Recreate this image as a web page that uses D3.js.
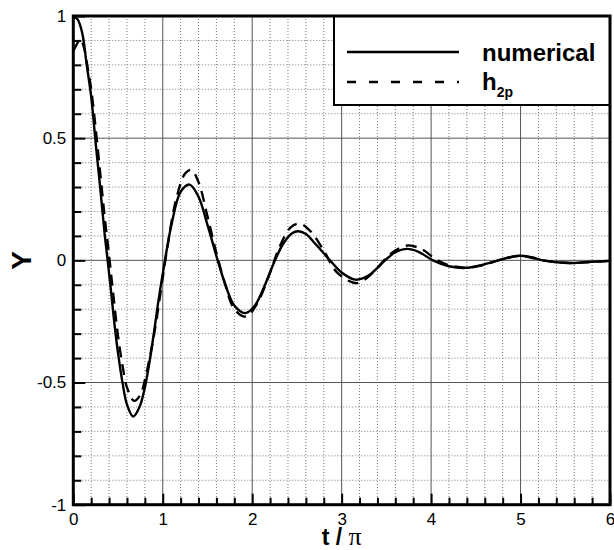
<!DOCTYPE html>
<html>
<head>
<meta charset="utf-8">
<script src="https://cdn.jsdelivr.net/npm/d3@7"></script>
<style>
  body { margin: 0; background: #fff; }
  svg { display: block; font-family: "Liberation Sans", Arial, sans-serif; }
</style>
</head>
<body>
<div id="wrapper"></div>
<script>
// data (t / pi, Y)
const xTicks = [0, 1, 2, 3, 4, 5, 6]
const yTicks = [-1, -0.5, 0, 0.5, 1]
const yTickLabels = ["-1", "-0.5", "0", "0.5", "1"]

const numericalT = [0, 0.05, 0.1, 0.15, 0.2, 0.25, 0.3, 0.35, 0.384, 0.42, 0.46, 0.5, 0.55, 0.6, 0.67,
  0.74, 0.8, 0.85, 0.9, 0.95, 1.025, 1.1, 1.2, 1.3, 1.4, 1.5, 1.614, 1.7, 1.8, 1.92, 2.02, 2.12,
  2.255, 2.35, 2.45, 2.515, 2.6, 2.7, 2.87, 3.0, 3.15, 3.3, 3.485, 3.6, 3.73, 3.86, 4.02, 4.2,
  4.38, 4.56, 4.75, 4.98, 5.12, 5.25, 5.4, 5.55, 5.75, 6.0]
const numericalY = [1.0, 0.985, 0.93, 0.8, 0.67, 0.48, 0.3, 0.11, 0.0, -0.12, -0.26, -0.38, -0.5, -0.59, -0.639,
  -0.6, -0.52, -0.42, -0.3, -0.17, 0.0, 0.15, 0.28, 0.31, 0.26, 0.145, 0.0, -0.1, -0.185, -0.216, -0.19, -0.12,
  0.0, 0.07, 0.112, 0.119, 0.108, 0.07, 0.0, -0.05, -0.079, -0.062, 0.0, 0.033, 0.047, 0.035, 0.0, -0.024,
  -0.031, -0.02, 0.0, 0.019, 0.013, 0.0, -0.008, -0.011, -0.007, -0.002]

const h2pT = [0, 0.04, 0.08, 0.12, 0.16, 0.2, 0.25, 0.3, 0.35, 0.4, 0.45, 0.5, 0.55, 0.6, 0.68,
  0.75, 0.8, 0.9, 1.0, 1.05, 1.15, 1.25, 1.32, 1.4, 1.5, 1.6, 1.7, 1.8, 1.93, 2.05, 2.2, 2.3,
  2.43, 2.53, 2.65, 2.8, 2.95, 3.17, 3.35, 3.5, 3.6, 3.74, 3.9, 4.05, 4.2, 4.4, 4.6, 4.75,
  5.0, 5.25, 5.55, 5.8, 6.0]
const h2pY = [0.857, 0.885, 0.905, 0.87, 0.79, 0.7, 0.54, 0.36, 0.18, 0.02, -0.15, -0.31, -0.43, -0.52, -0.575,
  -0.55, -0.49, -0.31, -0.07, 0.05, 0.25, 0.355, 0.37, 0.32, 0.18, 0.03, -0.1, -0.2, -0.23, -0.18, -0.05, 0.05,
  0.135, 0.15, 0.12, 0.04, -0.05, -0.093, -0.05, 0.01, 0.04, 0.061, 0.045, 0.005, -0.02, -0.03, -0.018, 0.0,
  0.018, 0.0, -0.011, -0.006, -0.002]

const numerical = numericalT.map((t, i) => ({ t, y: numericalY[i] }))
const h2p = h2pT.map((t, i) => ({ t, y: h2pY[i] }))

const dimensions = {
  width: 614,
  height: 550,
  margin: { top: 16, right: 4, bottom: 45.3, left: 73.3 },
}
dimensions.boundedWidth = dimensions.width - dimensions.margin.left - dimensions.margin.right
dimensions.boundedHeight = dimensions.height - dimensions.margin.top - dimensions.margin.bottom

const wrapper = d3.select("#wrapper")
  .append("svg")
    .attr("width", dimensions.width)
    .attr("height", dimensions.height)

const bounds = wrapper.append("g")
    .attr("transform", `translate(${dimensions.margin.left},${dimensions.margin.top})`)

const xScale = d3.scaleLinear()
    .domain([0, 6])
    .range([0, dimensions.boundedWidth])
const yScale = d3.scaleLinear()
    .domain([-1, 1])
    .range([dimensions.boundedHeight, 0])

const xMinor = d3.range(0, 6.001, 0.2).filter(v => Math.abs(v - Math.round(v)) > 1e-6)
const yMinor = d3.range(-1, 1.001, 0.1).filter(v => Math.abs(v * 2 - Math.round(v * 2)) > 1e-6)

// grid
const grid = bounds.append("g")
grid.selectAll(".vminor").data(xMinor).join("line")
    .attr("x1", d => xScale(d)).attr("x2", d => xScale(d))
    .attr("y1", 0).attr("y2", dimensions.boundedHeight)
    .attr("stroke", "#777").attr("stroke-dasharray", "1,2")
grid.selectAll(".hminor").data(yMinor).join("line")
    .attr("y1", d => yScale(d)).attr("y2", d => yScale(d))
    .attr("x1", 0).attr("x2", dimensions.boundedWidth)
    .attr("stroke", "#777").attr("stroke-dasharray", "1,2")
grid.selectAll(".vmajor").data(xTicks.slice(1, -1)).join("line")
    .attr("x1", d => xScale(d)).attr("x2", d => xScale(d))
    .attr("y1", 0).attr("y2", dimensions.boundedHeight)
    .attr("stroke", "#555")
grid.selectAll(".hmajor").data(yTicks.slice(1, -1)).join("line")
    .attr("y1", d => yScale(d)).attr("y2", d => yScale(d))
    .attr("x1", 0).attr("x2", dimensions.boundedWidth)
    .attr("stroke", "#555")

// curves
const lineGen = d3.line()
    .x(d => xScale(d.t))
    .y(d => yScale(d.y))
    .curve(d3.curveCatmullRom.alpha(0.5))

bounds.append("path")
    .datum(numerical)
    .attr("d", lineGen)
    .attr("fill", "none")
    .attr("stroke", "#000")
    .attr("stroke-width", 2.4)

bounds.append("path")
    .datum(h2p)
    .attr("d", lineGen)
    .attr("fill", "none")
    .attr("stroke", "#000")
    .attr("stroke-width", 2.4)
    .attr("stroke-dasharray", "11,7")

// axes
const xAxis = d3.axisBottom(xScale)
    .tickValues(xTicks).tickSize(-11).tickPadding(8)
    .tickFormat(d => String(d))
const xAxisMinor = d3.axisBottom(xScale)
    .tickValues(xMinor).tickSize(-7).tickFormat("")
const yAxis = d3.axisLeft(yScale)
    .tickValues(yTicks).tickSize(-12).tickPadding(7)
    .tickFormat((d, i) => yTickLabels[i])
const yAxisMinor = d3.axisLeft(yScale)
    .tickValues(yMinor).tickSize(-8).tickFormat("")

const axes = [
  [xAxis, `translate(0,${dimensions.boundedHeight})`],
  [xAxisMinor, `translate(0,${dimensions.boundedHeight})`],
  [yAxis, null],
  [yAxisMinor, null],
]
axes.forEach(([ax, tr]) => {
  const g = bounds.append("g").call(ax)
  if (tr) g.attr("transform", tr)
  g.select(".domain").remove()
  g.selectAll(".tick line").attr("stroke", "#000").attr("stroke-width", 2)
  g.selectAll(".tick text")
      .attr("fill", "#000")
      .style("font-size", "17px")
      .style("font-family", "'Liberation Sans', Arial, sans-serif")
})

// legend
const legend = bounds.append("g")
    .attr("transform", `translate(${334 - dimensions.margin.left},0)`)
const legendW = dimensions.boundedWidth - (334 - dimensions.margin.left)
legend.append("rect")
    .attr("width", legendW).attr("height", 89)
    .attr("fill", "#fff").attr("stroke", "#000").attr("stroke-width", 2)
legend.append("line")
    .attr("x1", 13).attr("x2", 125).attr("y1", 36).attr("y2", 36)
    .attr("stroke", "#000").attr("stroke-width", 2.4)
legend.append("line")
    .attr("x1", 13).attr("x2", 125).attr("y1", 66).attr("y2", 66)
    .attr("stroke", "#000").attr("stroke-width", 2.4)
    .attr("stroke-dasharray", "9,13")
legend.append("text")
    .attr("x", 148).attr("y", 45)
    .style("font-size", "24px").style("font-weight", "bold")
    .text("numerical")
const h2pLabel = legend.append("text")
    .attr("x", 148).attr("y", 74)
    .style("font-size", "24px").style("font-weight", "bold")
h2pLabel.append("tspan").text("h")
h2pLabel.append("tspan")
    .attr("dy", 6.5)
    .style("font-size", "14px")
    .text("2p")

// frame
bounds.append("rect")
    .attr("width", dimensions.boundedWidth)
    .attr("height", dimensions.boundedHeight)
    .attr("fill", "none")
    .attr("stroke", "#000")
    .attr("stroke-width", 3)

// axis titles
const xTitle = wrapper.append("text")
    .attr("x", dimensions.margin.left + dimensions.boundedWidth / 2)
    .attr("y", 545)
    .attr("text-anchor", "middle")
    .style("font-size", "23px")
xTitle.append("tspan").style("font-weight", "bold").text("t / ")
xTitle.append("tspan")
    .style("font-family", "'Liberation Serif', 'DejaVu Serif', serif")
    .style("font-size", "26px")
    .text("π")

wrapper.append("text")
    .attr("transform", `translate(31,${dimensions.margin.top + dimensions.boundedHeight / 2}) rotate(-90)`)
    .attr("text-anchor", "middle")
    .style("font-size", "28px")
    .style("font-weight", "bold")
    .text("Y")
</script>
</body>
</html>
